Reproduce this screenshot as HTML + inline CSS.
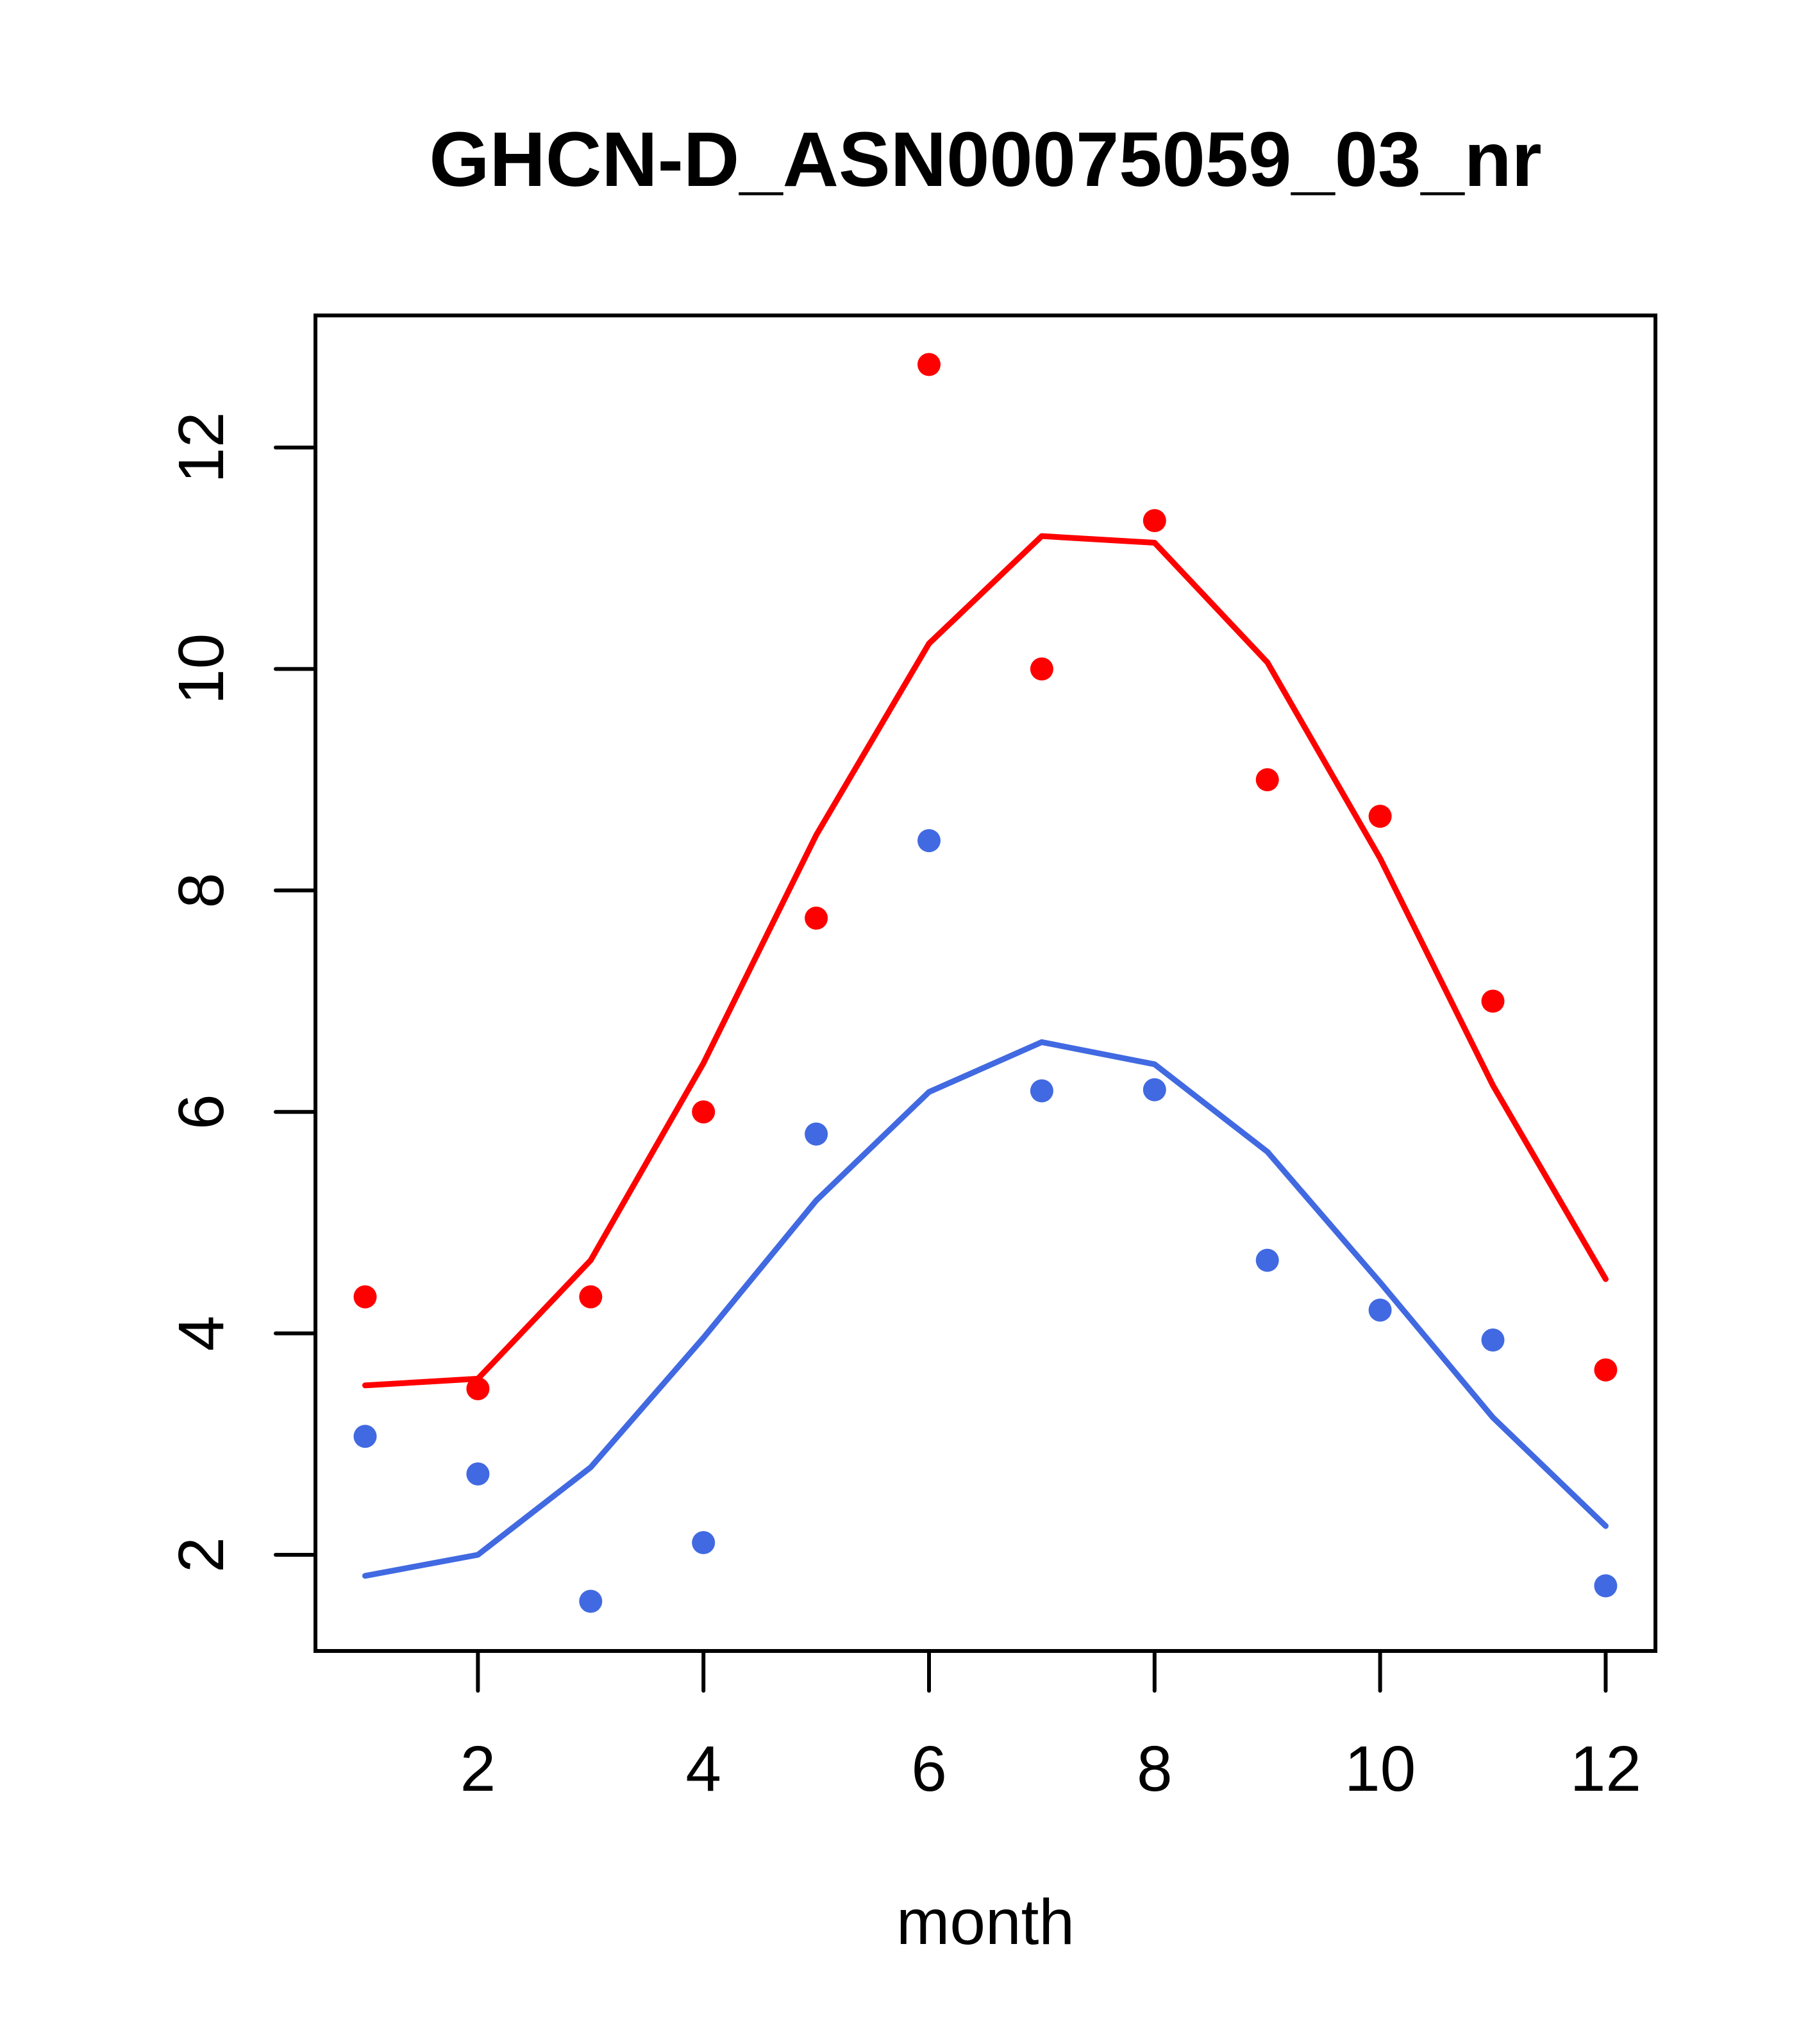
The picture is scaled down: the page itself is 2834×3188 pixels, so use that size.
<!DOCTYPE html>
<html><head><meta charset="utf-8"><style>html,body{margin:0;padding:0;background:#fff}svg{display:block}</style></head>
<body>
<svg id="chart" width="2834" height="3188" xmlns="http://www.w3.org/2000/svg" font-family="Liberation Sans, sans-serif">
<rect width="2834" height="3188" fill="#fff"/>
<text x="1537" y="290" font-size="121" font-weight="bold" text-anchor="middle">GHCN-D_ASN00075059_03_nr</text>
<rect x="492" y="492" width="2090" height="2083" fill="none" stroke="#000" stroke-width="6"/>
<g id="xaxis"></g>
<g id="yaxis"></g>
<g id="series"></g>
<text x="1537" y="3032" font-size="100" text-anchor="middle">month</text>
</svg>
<script>
const months = [1,2,3,4,5,6,7,8,9,10,11,12];
const xTicks = [2,4,6,8,10,12];
const yTicks = [2,4,6,8,10,12];
const redPoints = [4.33,3.5,4.33,6.0,7.75,12.75,10.0,11.34,9.0,8.67,7.0,3.67];
const redLine = [3.53,3.59,4.66,6.44,8.5,10.23,11.2,11.14,10.06,8.29,6.24,4.49];
const bluePoints = [3.07,2.73,1.58,2.11,5.8,8.45,6.19,6.2,4.66,4.21,3.94,1.72];
const blueLine = [1.81,2.0,2.79,3.96,5.2,6.18,6.63,6.43,5.64,4.46,3.24,2.26];

const NS='http://www.w3.org/2000/svg';
function X(m){return 745.4+(m-2)*175.9;}
function Y(v){return 2425-(v-2)*172.7;}
function mk(tag,attrs,parent){const e=document.createElementNS(NS,tag);for(const k in attrs)e.setAttribute(k,attrs[k]);parent.appendChild(e);return e;}
const xa=document.getElementById('xaxis'), ya=document.getElementById('yaxis'), s=document.getElementById('series');
xTicks.forEach(t=>{
  const l=mk('line',{x1:X(t),x2:X(t),y1:2575,y2:2637,stroke:'#000','stroke-width':6,'stroke-linecap':'round'},xa);
  
  
  const tx=mk('text',{x:X(t),y:2793,'font-size':100,'text-anchor':'middle'},xa);
  tx.textContent=t;
  
  
});
yTicks.forEach(t=>{
  const l=mk('line',{x1:430,x2:492,y1:Y(t),y2:Y(t),stroke:'#000','stroke-width':6,'stroke-linecap':'round'},ya);
  
  
  const tx=mk('text',{x:348,y:Y(t),'font-size':100,'text-anchor':'middle',transform:`rotate(-90 348 ${Y(t)})`},ya);
  tx.textContent=t;
  
  
});
function line(vals,color,name){
  const p=mk('polyline',{points:vals.map((v,i)=>X(months[i])+','+Y(v)).join(' '),fill:'none',stroke:color,'stroke-width':9,'stroke-linecap':'round','stroke-linejoin':'round'},s);
  
  
}
function pts(vals,color,name){
  vals.forEach((v,i)=>{
    const c=mk('circle',{cx:X(months[i]),cy:Y(v),r:18,fill:color},s);
    
    
  });
}
line(redLine,'#FF0000','red-line');
line(blueLine,'#4169E1','blue-line');
pts(redPoints,'#FF0000','red-point');
pts(bluePoints,'#4169E1','blue-point');
</script>
</body></html>
